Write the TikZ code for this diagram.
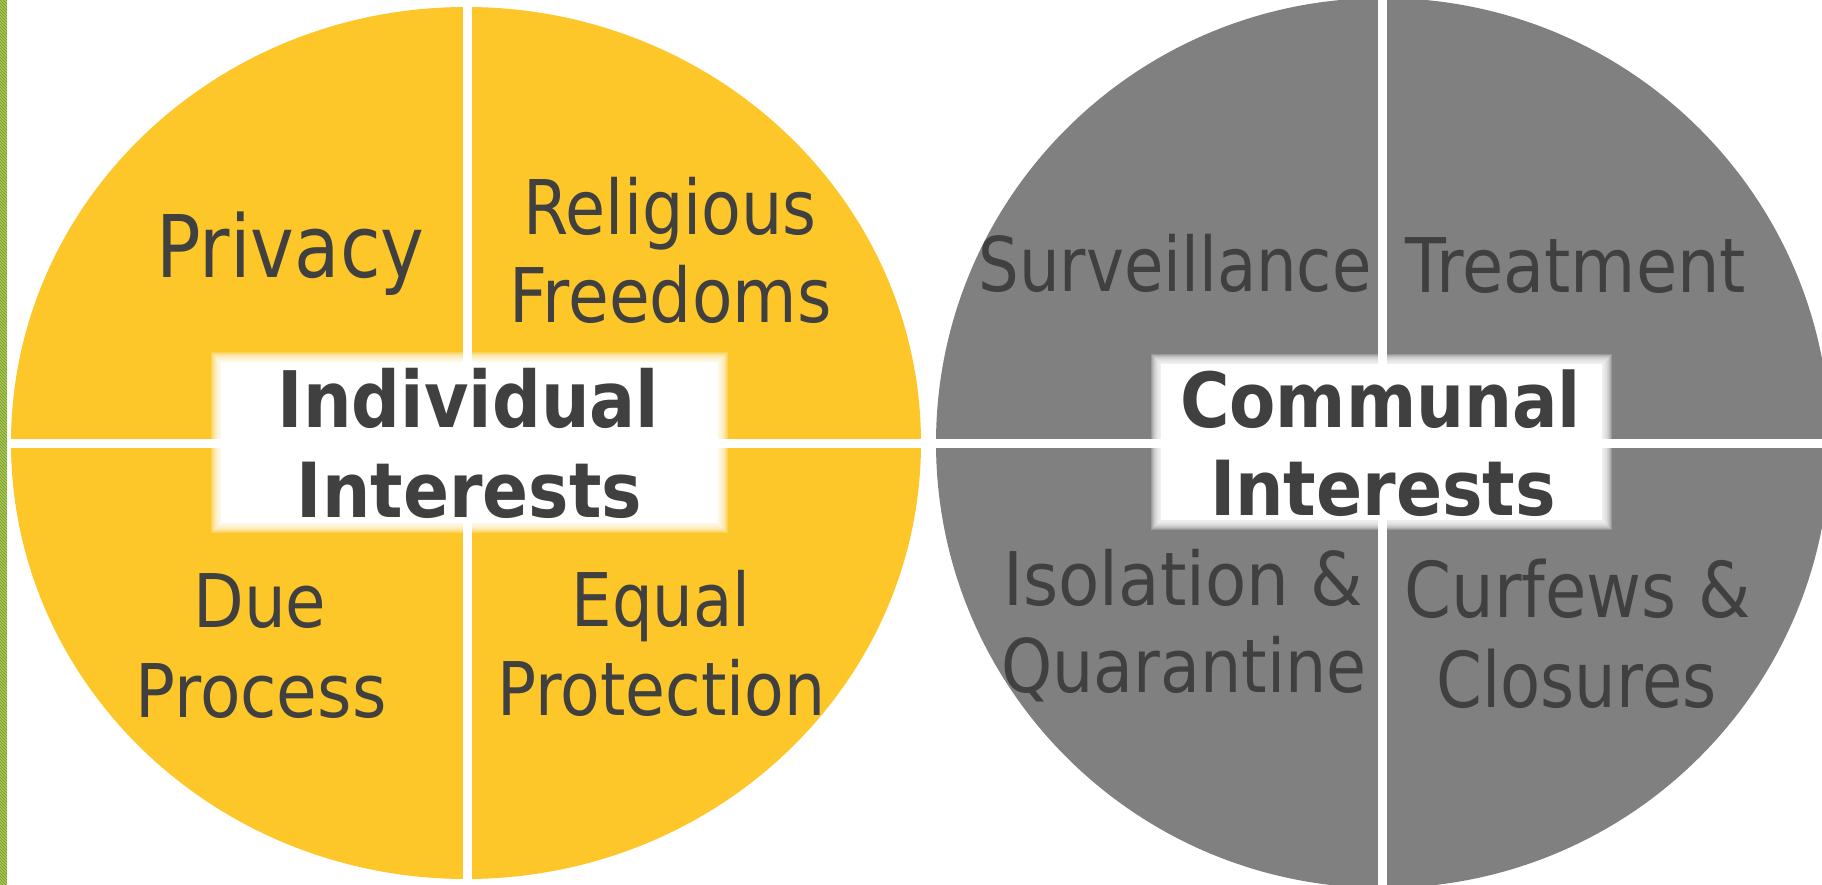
\documentclass[tikz,border=0pt]{standalone}
\usepackage{fontspec}
\setmainfont{DejaVu Sans}
\usetikzlibrary{patterns}
\definecolor{gold}{RGB}{253,198,41}
\definecolor{midgray}{RGB}{128,128,128}
\definecolor{ink}{RGB}{64,64,64}
\definecolor{leafA}{RGB}{168,198,84}
\definecolor{leafB}{RGB}{112,150,40}
\newcommand{\fitw}[3]{\resizebox{#1pt}{\height}{\fontsize{#2pt}{#2pt}\selectfont #3}}
\begin{document}
\begin{tikzpicture}[x=1pt,y=-1pt,
  lbl/.style={anchor=base, inner sep=0pt, outer sep=0pt, text=ink},
  divider/.style={draw=white, line width=9pt},
  fade/.style={fill=white, fill opacity=0.2}]
\useasboundingbox (0,0) rectangle (1822,885);
% left hatched strip
\fill[leafA] (0,0) rectangle (7,885);
\fill[pattern=north west lines, pattern color=leafB] (0,0) rectangle (7,885);
% circles
\fill[gold] (466,443) ellipse [x radius=455pt, y radius=436pt];
\fill[midgray] (1383,443) ellipse [x radius=447pt, y radius=445pt];
% dividers
\path[divider] (467,4) -- (467,885);
\path[divider] (10,443) -- (928,443);
\path[divider] (1382,0) -- (1382,885);
\path[divider] (930,443) -- (1822,443);
% soft white label boxes
\fill[white] (221,362) rectangle (718,523);
\foreach \k in {1,...,10}{\fill[fade] (221-\k,362-\k) rectangle (718+\k,523+\k);}
\fill[white] (1161,364) rectangle (1602,520);
\foreach \k in {1,...,10}{\fill[fade] (1161-\k,364-\k) rectangle (1602+\k,520+\k);}
% quadrant labels, left
\node[lbl] (privacy) at (290.5,277) {\fitw{268}{86.4}{Privacy}};
\node[lbl] (relig1) at (670,235) {\fitw{293}{75.4}{Religious}};
\node[lbl] (relig2) at (670.5,323) {\fitw{322}{75.4}{Freedoms}};
\node[lbl] (due1) at (260,627) {\fitw{133}{74}{Due}};
\node[lbl] (due2) at (261,717) {\fitw{251}{74}{Process}};
\node[lbl] (equal1) at (661,626) {\fitw{179}{74}{Equal}};
\node[lbl] (equal2) at (661.5,715) {\fitw{328}{74}{Protection}};
% quadrant labels, right
\node[lbl] (surv) at (1175,292) {\fitw{393}{75.4}{Surveillance}};
\node[lbl] (treat) at (1575.5,293) {\fitw{341}{75.4}{Treatment}};
\node[lbl] (iso1) at (1183.5,605) {\fitw{360}{74}{Isolation \&}};
\node[lbl] (iso2) at (1184,692) {\fitw{365}{74}{Quarantine}};
\node[lbl] (curf1) at (1577.5,617) {\fitw{346}{77}{Curfews \&}};
\node[lbl] (curf2) at (1576.5,707) {\fitw{280}{77}{Closures}};
% titles
\node[lbl] (ind1) at (468.5,427) {\fitw{381}{78}{\bfseries Individual}};
\node[lbl] (ind2) at (469.5,517) {\fitw{345}{76}{\bfseries Interests}};
\node[lbl] (com1) at (1380.5,427) {\fitw{401}{76}{\bfseries Communal}};
\node[lbl] (com2) at (1383,515) {\fitw{346}{76}{\bfseries Interests}};
\end{tikzpicture}
\end{document}
